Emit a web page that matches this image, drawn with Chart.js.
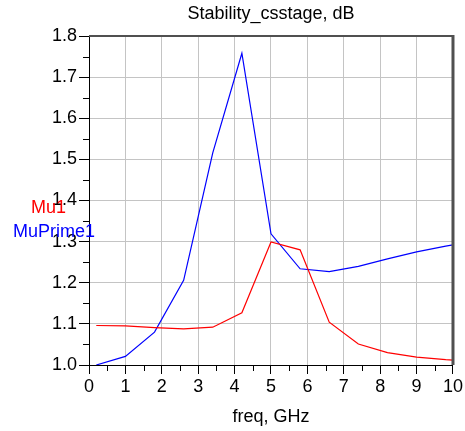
<!DOCTYPE html>
<html>
<head>
<meta charset="utf-8">
<script src="https://cdn.jsdelivr.net/npm/chart.js@4"></script>
<style>
    body { margin: 0; background: #fff; }
    canvas { display: block; }
</style>
</head>
<body>
<canvas id="stabilityChart" width="465" height="431"></canvas>
<script>
    //data
    const freq = [0.2, 1.0, 1.8, 2.6, 3.4, 4.2, 5.0, 5.8, 6.6, 7.4, 8.2, 9.0, 9.8, 10];
    const mu1 = [1.096, 1.095, 1.091, 1.088, 1.092, 1.127, 1.299, 1.280, 1.104, 1.051, 1.030, 1.019, 1.013, 1.012];
    const muPrime1 = [1.000, 1.021, 1.080, 1.206, 1.516, 1.758, 1.319, 1.234, 1.227, 1.240, 1.258, 1.275, 1.289, 1.292];
    const xTicks = [0, 1, 2, 3, 4, 5, 6, 7, 8, 9, 10];
    const yTicks = [1.0, 1.1, 1.2, 1.3, 1.4, 1.5, 1.6, 1.7, 1.8];
    const seriesNames = ['Mu1', 'MuPrime1'];
    //data

    const font = 'Liberation Sans, Arial, sans-serif';

    //minor ticks, frame and the trace names on the left
    const adsStyle = {
        id: 'adsStyle',
        afterDraw(chart) {
            const c = chart.ctx;
            const area = chart.chartArea;
            const xs = chart.scales.x, ys = chart.scales.y;
            c.save();
            c.strokeStyle = '#000';
            c.lineWidth = 1;
            c.beginPath();
            for (let i = 0; i < yTicks.length - 1; i++) {
                const py = Math.round(ys.getPixelForValue((yTicks[i] + yTicks[i + 1]) / 2)) + 0.5;
                c.moveTo(area.left - 6, py);
                c.lineTo(area.left, py);
            }
            for (let i = 0; i < xTicks.length - 1; i++) {
                const px = Math.round(xs.getPixelForValue((xTicks[i] + xTicks[i + 1]) / 2)) + 0.5;
                c.moveTo(px, area.bottom);
                c.lineTo(px, area.bottom + 6);
            }
            c.stroke();

            c.strokeStyle = '#505050';
            c.lineWidth = 2;
            c.beginPath();
            c.moveTo(area.left, area.top);
            c.lineTo(area.right, area.top);
            c.stroke();
            c.lineWidth = 3;
            c.beginPath();
            c.moveTo(area.right, area.top - 1);
            c.lineTo(area.right, area.bottom);
            c.stroke();

            c.font = '18px ' + font;
            c.textAlign = 'left';
            c.textBaseline = 'middle';
            const pos = [[31, 208], [13, 232]];
            chart.data.datasets.forEach((ds, i) => {
                c.fillStyle = ds.borderColor;
                c.fillText(ds.label, pos[i][0], pos[i][1]);
            });
            c.restore();
        }
    };

    const ctx = document.getElementById('stabilityChart');
    const stabilityChart = new Chart(ctx, {
        type: 'line',
        data: {
            datasets: [
                {
                    label: seriesNames[0],
                    data: freq.map((f, i) => ({ x: f, y: mu1[i] })),
                    borderColor: '#ff0000',
                    borderWidth: 1.2,
                    pointRadius: 0,
                    tension: 0
                },
                {
                    label: seriesNames[1],
                    data: freq.map((f, i) => ({ x: f, y: muPrime1[i] })),
                    borderColor: '#0000ff',
                    borderWidth: 1.2,
                    pointRadius: 0,
                    tension: 0
                }
            ]
        },
        options: {
            responsive: false,
            animation: false,
            layout: { padding: { left: 0, right: 12, top: 0, bottom: 0 } },
            plugins: {
                legend: { display: false },
                tooltip: { enabled: false },
                title: {
                    display: true,
                    fullSize: false,
                    text: 'Stability_csstage, dB',
                    color: '#000',
                    font: { family: font, size: 18, weight: 'normal' },
                    padding: { top: 3, bottom: 11.4 }
                }
            },
            scales: {
                x: {
                    type: 'linear',
                    min: 0,
                    max: 10,
                    afterBuildTicks: scale => { scale.ticks = xTicks.map(v => ({ value: v })); },
                    afterFit: scale => { scale.height = 66; },
                    ticks: {
                        color: '#000',
                        font: { family: font, size: 18 },
                        padding: 2,
                        maxRotation: 0
                    },
                    grid: { color: '#c4c4c4', lineWidth: 1, tickColor: '#000', tickLength: 9 },
                    border: { color: '#000', width: 1 },
                    title: {
                        display: true,
                        text: 'freq, GHz',
                        color: '#000',
                        font: { family: font, size: 18 },
                        padding: { top: 0, bottom: 3 }
                    }
                },
                y: {
                    type: 'linear',
                    min: 1.0,
                    max: 1.8,
                    afterBuildTicks: scale => { scale.ticks = yTicks.map(v => ({ value: v })); },
                    afterFit: scale => { scale.width = 89; },
                    ticks: {
                        color: '#000',
                        font: { family: font, size: 18 },
                        padding: 2,
                        callback: v => v.toFixed(1)
                    },
                    grid: { color: '#c4c4c4', lineWidth: 1, tickColor: '#000', tickLength: 10 },
                    border: { color: '#000', width: 1 }
                }
            }
        },
        plugins: [adsStyle]
    });
</script>
</body>
</html>
